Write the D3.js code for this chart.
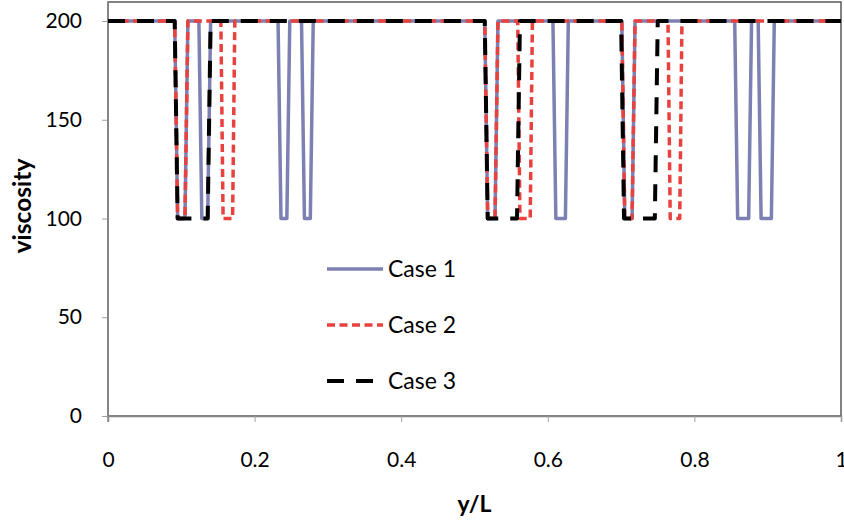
<!DOCTYPE html>
<html><head><meta charset="utf-8">
<script src="https://cdn.jsdelivr.net/npm/d3@7"></script>
<style>body{margin:0;background:#fff;} svg{display:block;font-family:Lato,"Open Sans",sans-serif;}</style>
</head><body>
<svg id="c" width="844" height="525"></svg>
<script>
const seriesNames = ["Case 1", "Case 2", "Case 3"];
const case1 = [[0,200],
 [0.091,200],[0.095,100],[0.105,100],[0.109,200],
 [0.124,200],[0.128,100],[0.136,100],[0.140,200],
 [0.232,200],[0.236,100],[0.244,100],[0.248,200],
 [0.264,200],[0.268,100],[0.276,100],[0.280,200],
 [0.514,200],[0.518,100],[0.528,100],[0.532,200],
 [0.607,200],[0.611,100],[0.624,100],[0.628,200],
 [0.701,200],[0.705,100],[0.715,100],[0.719,200],
 [0.855,200],[0.859,100],[0.874,100],[0.878,200],
 [0.887,200],[0.891,100],[0.905,100],[0.909,200],
 [1,200]];
const case2 = [[0,200],
 [0.091,200],[0.095,100],[0.105,100],[0.109,200],
 [0.154,200],[0.157,100],[0.170,100],[0.173,200],
 [0.514,200],[0.518,100],[0.528,100],[0.532,200],
 [0.559,200],[0.562,100],[0.576,100],[0.579,200],
 [0.701,200],[0.705,100],[0.715,100],[0.719,200],
 [0.764,200],[0.767,100],[0.780,100],[0.783,200],
 [1,200]];
const case3 = [[0,200],
 [0.091,200],[0.095,100],[0.136,100],[0.140,200],
 [0.514,200],[0.518,100],[0.558,100],[0.562,200],
 [0.700,200],[0.704,100],[0.746,100],[0.750,200],
 [1,200]];
const xTicks = [0, 0.2, 0.4, 0.6, 0.8, 1];
const xTickLabels = ["0", "0.2", "0.4", "0.6", "0.8", "1"];
const yTicks = [0, 50, 100, 150, 200];

const svg = d3.select("#c");
const L = 108, R = 841, T = 2, B = 416;
const x = d3.scaleLinear().domain([0, 1]).range([L, R]);
const y = d3.scaleLinear().domain([0, 200]).range([B, 21]);

// frame
svg.append("rect").attr("x", L).attr("y", T).attr("width", R - L).attr("height", B - T)
  .attr("fill", "none").attr("stroke", "#595959").attr("stroke-width", 1.5);

const fs = 21;
const xAxis = svg.append("g").attr("transform", `translate(0,${B})`)
  .call(d3.axisBottom(x).tickValues(xTicks).tickFormat((d, i) => xTickLabels[i]).tickSize(6).tickPadding(30));
xAxis.select(".domain").attr("stroke", "#868686").attr("stroke-width", 1.5);
xAxis.selectAll(".tick line").attr("stroke", "#a0a0a0");
xAxis.selectAll("text").attr("font-size", fs).attr("fill", "#000").attr("font-family", "Lato");

const yAxis = svg.append("g").attr("transform", `translate(${L},0)`)
  .call(d3.axisLeft(y).tickValues(yTicks).tickSize(6).tickPadding(20));
yAxis.select(".domain").remove();
yAxis.selectAll(".tick line").attr("stroke", "#a0a0a0");
yAxis.selectAll("text").attr("font-size", fs).attr("fill", "#000").attr("font-family", "Lato");
svg.append("line").attr("x1", L).attr("x2", L).attr("y1", T).attr("y2", B + 6)
  .attr("stroke", "#868686").attr("stroke-width", 1.5);

const line = d3.line().x(d => x(d[0])).y(d => y(d[1]));
const styles = [
  {data: case1, color: "#7d80b2", width: 3.5, dash: null},
  {data: case2, color: "#e8413e", width: 3.5, dash: "8,4.5"},
  {data: case3, color: "#000000", width: 4, dash: "17,12"}
];
styles.forEach(s => {
  svg.append("path").datum(s.data).attr("d", line).attr("fill", "none")
    .attr("stroke", s.color).attr("stroke-width", s.width)
    .attr("stroke-dasharray", s.dash).attr("stroke-linejoin", "round");
});

// legend
const legY = [269, 325, 381];
const leg = svg.append("g");
styles.forEach((s, i) => {
  leg.append("line").attr("x1", 327).attr("x2", i === 2 ? 375 : 383).attr("y1", legY[i]).attr("y2", legY[i])
    .attr("stroke", s.color).attr("stroke-width", s.width).attr("stroke-dasharray", s.dash);
  leg.append("text").attr("x", 388).attr("y", legY[i]).attr("dy", "0.36em")
    .attr("font-size", 23).text(seriesNames[i]);
});

svg.append("text").attr("x", (L + R) / 2).attr("y", 512).attr("text-anchor", "middle")
  .attr("font-size", 23).attr("font-weight", "bold").text("y/L");
svg.append("text").attr("transform", `translate(22,${(T + B) / 2 - 3}) rotate(-90)`)
  .attr("text-anchor", "middle").attr("dy", "0.35em")
  .attr("font-size", 24.5).attr("font-weight", "bold").text("viscosity");
</script>
</body></html>
